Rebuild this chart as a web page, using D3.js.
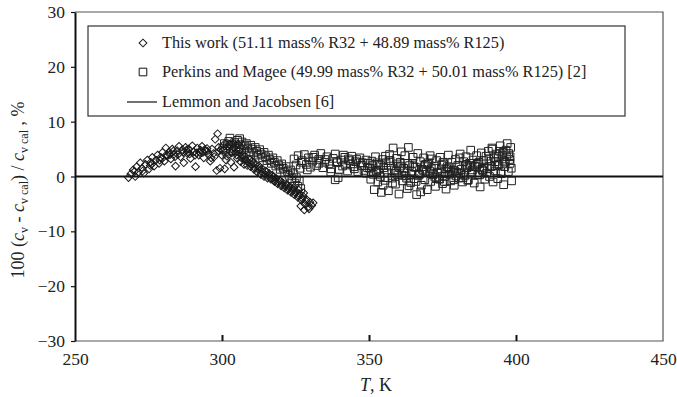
<!DOCTYPE html>
<html><head><meta charset="utf-8">
<script src="https://cdn.jsdelivr.net/npm/d3@7"></script>
<style>body{margin:0;background:#fff}svg{display:block}text{font-family:"Liberation Serif","Times New Roman",Times,serif;fill:#222}</style>
</head><body><svg id="c" width="677" height="397"></svg>
<script>
const xTicks=[250,300,350,400,450];
const yTicks=[-30,-20,-10,0,10,20,30];
const legendLabels=["This work (51.11 mass% R32 + 48.89 mass% R125)","Perkins and Magee (49.99 mass% R32 + 50.01 mass% R125) [2]","Lemmon and Jacobsen [6]"];
// This work: temperature (K) and deviation (%)
const thisWorkT=[268.2,269.0,269.8,270.5,271.0,271.6,272.2,272.8,273.4,274.0,274.6,275.2,275.8,276.3,276.9,277.5,278.1,278.6,279.2,279.8,280.4,280.9,281.5,282.0,282.6,283.1,283.7,284.2,284.8,285.4,285.9,286.5,287.0,287.6,288.2,288.7,289.3,289.9,290.4,291.0,291.6,292.1,292.7,293.2,293.8,294.4,294.9,295.5,296.0,296.6,297.1,297.7,298.2,298.5,298.8,299.3,299.9,300.4,300.9,301.4,302.0,302.5,303.0,303.6,304.1,301.0,302.5,304.0,305.5,
304.6,305.2,305.8,306.3,306.9,307.5,308.0,308.6,309.2,309.7,310.3,310.9,311.4,312.0,312.6,313.2,313.7,314.3,314.9,315.5,316.0,316.6,317.2,317.8,318.3,318.9,319.5,320.1,320.6,321.2,321.8,322.3,322.9,323.5,324.0,324.6,325.2,325.8,326.4,327.0,327.6,328.2,328.8,329.3,329.9,330.5,331.0,326.8,328.0,
270.2,273.0,275.6,278.8,281.2,284.0,286.8,289.0,292.4,295.0,297.4,299.6,306.0,308.2,310.6,312.8,315.2,317.5,319.8,322.0,324.3,326.0,327.8,
283.4,285.0,287.9,290.8,293.5,296.3,299.0,301.7,303.3,305.0,306.6,307.7,309.0,310.0,311.1,312.3,313.5,314.6,315.8,317.0,318.1,319.2,320.4,321.5,322.6,323.8,325.0,326.1,327.3,328.5,329.6,276.0,279.5,282.3,288.4,291.3,294.1];
const thisWorkDev=[-0.2,0.5,1.2,0.0,1.8,0.8,2.5,1.5,0.6,2.2,3.0,1.4,2.6,3.5,1.9,3.0,3.9,2.4,3.5,4.4,2.8,5.2,3.8,4.5,3.2,5.0,4.1,1.9,4.7,5.5,3.6,4.9,2.5,5.3,4.2,5.0,3.3,5.6,4.5,1.8,5.2,3.9,4.8,5.5,3.4,4.6,5.1,4.0,2.8,5.0,4.2,6.8,1.1,7.8,5.3,1.5,3.9,4.8,1.4,3.0,5.5,4.1,2.6,5.9,1.7,6.0,5.8,5.2,5.9,
4.4,3.3,4.8,2.7,4.0,2.2,3.6,2.0,3.2,1.8,2.8,1.3,2.3,0.8,1.9,0.4,1.4,0.0,1.0,-0.3,0.6,-0.5,0.2,-0.9,-0.3,-1.3,-0.7,-1.7,-1.1,-2.1,-1.5,-2.5,-1.9,-2.9,-2.3,-3.3,-2.7,-3.8,-3.2,-4.3,-3.6,-5.0,-4.2,-5.6,-4.7,-5.3,-4.8,-5.4,-6.1,
0.9,1.0,2.0,3.0,4.0,3.6,4.4,4.1,4.4,4.6,3.6,4.9,4.2,3.0,2.4,1.5,0.8,-0.1,-0.8,-1.4,-2.0,-2.4,-3.0,
4.6,4.0,4.8,3.9,4.4,3.4,4.6,3.7,4.3,3.9,3.4,3.0,2.5,2.2,1.6,1.3,0.9,0.4,0.2,-0.4,-0.8,-1.0,-1.5,-1.8,-2.2,-2.6,-3.0,-3.5,-4.0,-4.4,-5.9,2.2,3.2,4.0,4.5,4.3,4.9];
// Perkins and Magee: temperature (K) and deviation (%)
const perkinsT=[300.3,300.8,301.3,301.8,302.3,302.8,303.3,303.8,304.3,304.8,305.3,305.8,306.3,306.8,307.3,307.8,308.3,308.8,309.3,309.8,310.3,310.8,311.3,311.8,312.3,312.8,313.3,313.8,314.3,314.8,315.3,315.8,316.3,316.8,317.3,317.8,318.3,318.8,319.3,319.8,320.3,320.8,321.3,321.8,322.3,322.8,323.3,323.8,324.3,324.8,325.3,325.8,326.3,326.8,302.7,306.0,
324.5,325.2,325.9,326.6,327.3,328.0,328.7,329.4,330.1,330.8,331.5,332.2,332.9,333.6,334.3,335.0,335.7,336.4,337.1,337.8,338.5,339.2,339.9,340.6,341.3,342.0,342.7,343.4,344.1,344.8,345.5,346.2,346.9,347.6,348.3,349.0,349.7,338.5,339.5,
350.2,350.6,351.0,351.4,351.8,352.2,352.6,353.0,353.4,353.8,354.2,354.6,355.0,355.4,355.8,356.2,356.6,357.0,357.4,357.8,358.2,358.6,359.0,359.4,359.8,360.2,360.6,361.0,361.4,361.8,362.2,362.6,363.0,363.4,363.8,364.2,364.6,365.0,365.4,365.8,366.2,366.6,367.0,367.4,367.8,368.2,368.6,369.0,369.4,369.8,
370.2,370.6,371.0,371.4,371.8,372.2,372.6,373.0,373.4,373.8,374.2,374.6,375.0,375.4,375.8,376.2,376.6,377.0,377.4,377.8,378.2,378.6,379.0,379.4,379.8,380.2,380.6,381.0,381.4,381.8,382.2,382.6,383.0,383.4,383.8,384.2,384.6,385.0,385.4,385.8,386.2,386.6,387.0,387.4,387.8,388.2,388.6,389.0,389.4,389.8,
390.2,390.6,391.0,391.4,391.8,392.2,392.6,393.0,393.4,393.8,394.2,394.6,395.0,395.4,395.8,396.2,396.6,397.0,397.4,397.8,398.2,398.5,398.0,396.9,395.6,394.0,393.0,392.0,397.5,398.4,
341.0,343.0,345.0,347.0,349.0,351.2,353.2,355.2,357.2,359.2,361.2,363.2,365.2,367.2,369.2,371.2,373.2,375.2,377.2,379.2,381.2,383.2,385.2,387.2,389.2,352.4,356.4,360.4,364.4,368.4,372.4,376.4,380.4,384.4,388.4,354.0,358.0,362.0,366.0,370.0,374.0,378.0,382.0,386.0,390.0,394.8,396.0,391.6,393.6,
327.0,329.0,331.0,333.0,335.0,337.0,339.0,341.8,343.8,345.8,347.8,349.5,350.8,352.8,354.8,356.8,358.8,360.8,362.8,364.8,366.8,368.8,370.8,372.8,374.8,376.8,378.8,380.8,382.8,384.8,386.8,388.8,390.8,392.8,394.4,396.4,398.0,355.6,359.6,363.6,367.6,371.6,375.6,379.6,383.6,387.6];
const perkinsDev=[5.2,6.0,4.6,5.6,6.4,5.0,5.9,4.7,6.2,5.4,6.6,5.1,5.8,6.3,4.9,5.6,6.0,5.2,4.5,5.7,5.0,4.3,5.3,4.6,3.9,4.9,4.1,3.4,4.4,3.6,2.9,3.9,3.1,2.4,3.4,2.6,1.9,2.9,2.1,1.3,2.3,1.5,0.7,1.8,0.9,0.2,1.2,-0.4,0.5,-1.2,-0.2,-1.8,-0.8,-2.2,7.0,6.9,
3.2,2.1,3.8,1.5,2.9,4.0,2.2,3.4,1.7,2.8,3.9,2.0,3.1,4.2,1.6,2.6,3.6,2.3,1.4,3.3,4.1,2.5,1.3,3.0,3.9,2.1,1.0,2.9,3.7,1.8,2.7,0.9,3.4,2.0,1.1,3.0,2.4,-0.6,-0.2,
1.5,-0.5,2.8,0.4,-2.4,3.6,1.1,-1.0,2.2,0.0,-2.9,3.1,1.6,-0.7,2.5,0.7,-2.6,4.0,1.9,-0.3,5.2,1.2,-1.4,3.3,0.3,-3.2,2.6,4.5,-0.8,1.5,3.8,0.1,-2.2,5.3,2.0,-1.1,0.9,3.5,-0.4,1.7,-3.3,4.2,0.5,2.7,-1.6,1.3,3.4,-0.6,0.9,-2.4,
2.5,1.0,-0.9,3.2,0.3,1.9,-1.8,2.9,0.6,-0.4,3.5,1.4,-1.3,2.3,0.0,-2.3,1.8,3.9,0.4,-0.8,2.6,1.1,-1.6,3.1,0.7,2.0,-0.3,4.1,1.3,-1.0,2.7,0.2,3.6,1.6,-0.6,2.4,4.8,0.8,3.0,-1.2,1.9,3.8,0.3,2.6,-1.9,4.3,1.2,2.9,-0.5,3.7,
1.5,4.6,0.0,2.8,5.2,-1.0,3.4,1.0,4.1,-0.4,2.2,5.6,0.5,3.9,-1.5,1.8,4.8,6.0,0.9,3.1,5.3,-0.8,2.4,3.6,4.4,3.7,2.7,5.0,4.2,1.5,
1.9,3.2,1.4,2.5,0.6,2.0,1.2,0.6,2.9,1.0,0.2,2.4,1.8,0.4,2.2,1.4,0.8,2.6,1.6,1.0,0.5,2.1,1.2,2.3,1.7,0.9,-0.2,1.6,0.3,1.1,-0.1,1.4,0.7,2.0,1.3,2.0,-1.2,0.9,-0.9,2.2,-0.5,0.8,-0.2,1.8,0.6,0.9,2.8,1.8,2.0,
2.6,1.2,3.5,2.4,3.1,0.8,2.7,3.5,2.3,3.1,2.5,1.6,0.9,2.5,-1.6,2.9,0.6,1.9,-0.3,2.4,0.2,1.8,3.8,-0.2,2.1,0.9,-0.6,3.4,1.9,0.4,2.2,1.0,3.2,2.0,4.6,2.6,3.6,3.7,2.3,-1.7,-2.8,0.5,-0.9,0.1,-0.7,0.3];

const svg=d3.select("#c");
const m={l:75,r:663,t:12,b:341};
const x=d3.scaleLinear().domain([250,450]).range([m.l,m.r]);
const y=d3.scaleLinear().domain([-30,30]).range([m.b,m.t]);

// frame (top/right/bottom)
svg.append("path").attr("d",`M${m.l},${m.t}H${m.r}V${m.b}H${m.l}`).attr("fill","none").attr("stroke","#555").attr("stroke-width",1.2);

// x axis
const xa=svg.append("g").attr("transform",`translate(0,${m.b})`)
 .call(d3.axisBottom(x).tickValues(xTicks).tickSizeInner(-6).tickSizeOuter(0).tickPadding(12));
xa.attr("font-family",null);
xa.select(".domain").remove();
xa.selectAll("line").attr("stroke","#111").attr("stroke-width",2);
xa.selectAll(".tick").filter(d=>d===250||d===450).select("line").remove();
xa.selectAll("text").attr("font-size",17.5).attr("fill","#222");

// y axis
const ya=svg.append("g").attr("transform",`translate(${m.l},0)`)
 .call(d3.axisLeft(y).tickValues(yTicks).tickSizeInner(4).tickSizeOuter(0).tickPadding(6));
ya.attr("font-family",null);
ya.select(".domain").attr("stroke","#111").attr("stroke-width",2);
ya.selectAll("line").attr("stroke","#111").attr("stroke-width",1.2);
ya.selectAll("text").attr("font-size",17.5).attr("fill","#222");

// zero line (Lemmon and Jacobsen)
svg.append("line").attr("x1",x(250)).attr("x2",x(450)).attr("y1",y(0)).attr("y2",y(0)).attr("stroke","#111").attr("stroke-width",2);

const sq=d3.symbol().type(d3.symbolSquare).size(58);
const dm=d3.symbol().type(d3.symbolSquare).size(30);

svg.append("g").selectAll("path").data(d3.zip(perkinsT,perkinsDev)).join("path")
 .attr("d",sq).attr("transform",d=>`translate(${x(d[0])},${y(d[1])})`)
 .attr("fill","none").attr("stroke","#222").attr("stroke-width",1);
svg.append("g").selectAll("path").data(d3.zip(thisWorkT,thisWorkDev)).join("path")
 .attr("d",dm).attr("transform",d=>`translate(${x(d[0])},${y(d[1])}) rotate(45)`)
 .attr("fill","none").attr("stroke","#1a1a1a").attr("stroke-width",1);

// legend
const lg=svg.append("g");
lg.append("rect").attr("x",88).attr("y",26).attr("width",537).attr("height",90).attr("fill","#fff").attr("stroke","#333").attr("stroke-width",1.2);
const rows=[43,72,102];
lg.append("path").attr("d",dm).attr("transform",`translate(143,${rows[0]}) rotate(45)`).attr("fill","none").attr("stroke","#111");
lg.append("path").attr("d",sq).attr("transform",`translate(143,${rows[1]})`).attr("fill","none").attr("stroke","#111");
lg.append("line").attr("x1",127).attr("x2",157).attr("y1",rows[2]).attr("y2",rows[2]).attr("stroke","#111").attr("stroke-width",1.2);
lg.selectAll("text.l").data(legendLabels).join("text").attr("class","l")
 .attr("x",162).attr("y",(d,i)=>rows[i]).attr("dy","0.33em").attr("font-size",16.3).text(d=>d);

// x title
const xt=svg.append("text").attr("x",376).attr("y",391).attr("text-anchor","middle").attr("font-size",18);
xt.append("tspan").attr("font-style","italic").text("T");
xt.append("tspan").text(", K");

// y title
const yt=svg.append("text").attr("transform","translate(24,190) rotate(-90)").attr("text-anchor","middle").attr("font-size",18);
yt.append("tspan").text("100 (");
yt.append("tspan").attr("font-style","italic").text("c");
yt.append("tspan").attr("font-size",12).attr("dy",4).text("v");
yt.append("tspan").attr("dy",-4).text(" - ");
yt.append("tspan").attr("font-style","italic").text("c");
yt.append("tspan").attr("font-size",12).attr("dy",4).text("v cal");
yt.append("tspan").attr("dy",-4).text(") / ");
yt.append("tspan").attr("font-style","italic").text("c");
yt.append("tspan").attr("font-size",12).attr("dy",4).text("v cal");
yt.append("tspan").attr("dy",-4).text(" , %");
</script></body></html>
